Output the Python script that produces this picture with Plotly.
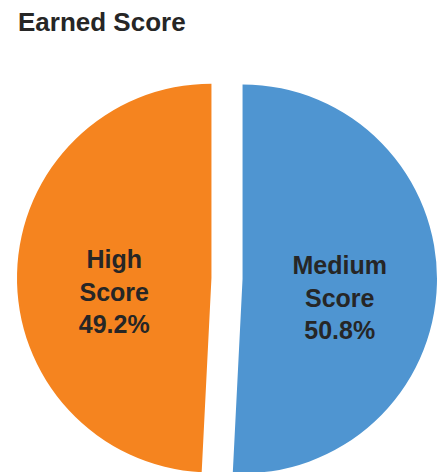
import plotly.graph_objects as go

labels = ["Medium Score", "High Score"]
label_lines = ["Medium<br>Score", "High<br>Score"]
values = [50.8, 49.2]
colors = ["#4F95D1", "#F5841F"]

fig = go.Figure(
    go.Pie(
        labels=labels,
        values=values,
        text=label_lines,
        # leading blank line nudges the label block down a little
        texttemplate="&#160;<br>%{text}<br>%{percent:.1%}",
        textposition="inside",
        insidetextorientation="horizontal",
        textfont=dict(family="Liberation Sans", size=25, color="#262626", weight="bold"),
        marker=dict(colors=colors, line=dict(width=0)),
        pull=[0.08, 0.08],
        sort=False,
        direction="clockwise",
        rotation=0,
        showlegend=False,
        hoverinfo="label+percent",
    )
)

fig.update_layout(
    width=440,
    height=490,
    margin=dict(l=17, r=3, t=67, b=0),
    paper_bgcolor="white",
    title=dict(
        text="<b>Earned Score</b>",
        font=dict(family="Liberation Sans", size=26, color="#262626"),
        xref="container",
        yref="container",
        x=18 / 440,
        xanchor="left",
        y=1 - 22 / 490,
        yanchor="middle",
    ),
)

fig.write_html(
    "out.html",
    config={"displayModeBar": False},
    post_script="document.documentElement.style.overflow='hidden';document.body.style.overflow='hidden';document.body.style.margin='0';",
)
